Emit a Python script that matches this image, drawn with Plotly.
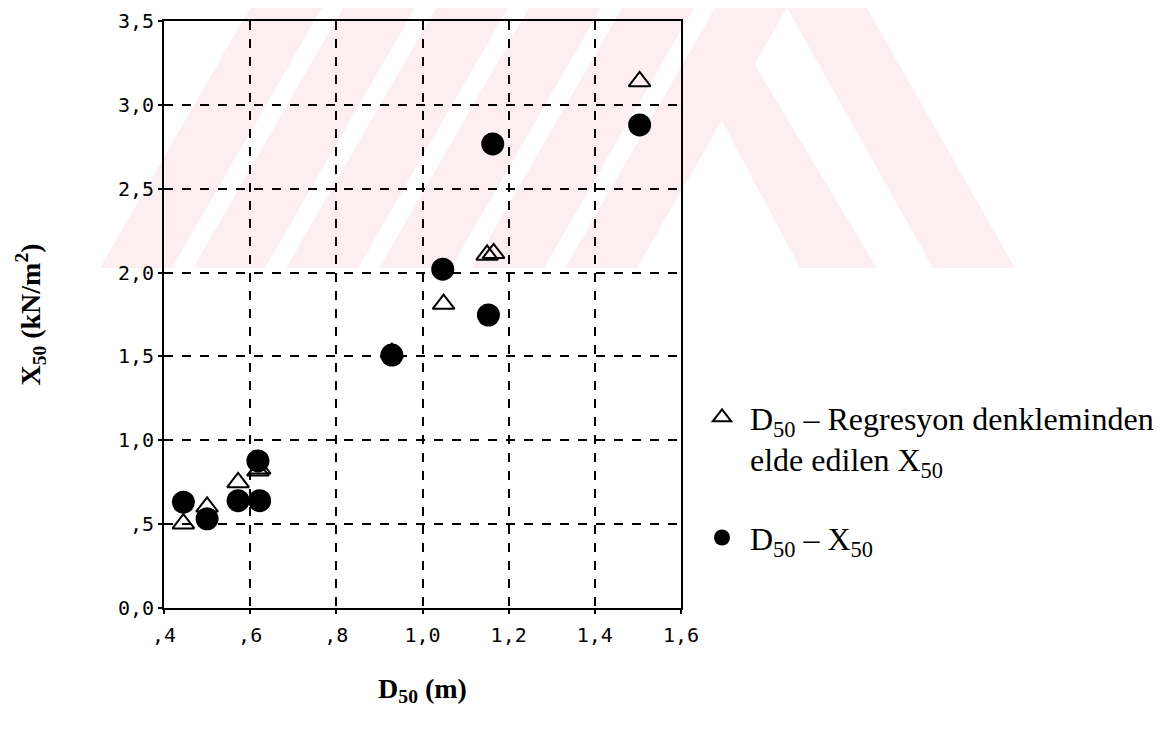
import plotly.graph_objects as go

# ---- data ----
d50_measured = [0.445, 0.500, 0.572, 0.622, 0.618, 0.929, 1.047, 1.153, 1.163, 1.504]
x50_measured = [0.631, 0.532, 0.640, 0.640, 0.877, 1.508, 2.020, 1.747, 2.767, 2.880]

d50_regr = [0.445, 0.500, 0.572, 0.618, 0.622, 0.929, 1.049, 1.150, 1.165, 1.504]
x50_regr = [0.503, 0.603, 0.749, 0.818, 0.830, 1.520, 1.812, 2.105, 2.115, 3.140]

x_tickvals = [0.4, 0.6, 0.8, 1.0, 1.2, 1.4, 1.6]
x_ticktext = [",4", ",6", ",8", "1,0", "1,2", "1,4", "1,6"]
y_tickvals = [0.0, 0.5, 1.0, 1.5, 2.0, 2.5, 3.0, 3.5]
y_ticktext = ["0,0", ",5", "1,0", "1,5", "2,0", "2,5", "3,0", "3,5"]

legend_regr = "D<sub>50</sub> \u2013 Regresyon denkleminden<br>elde edilen X<sub>50</sub>"
legend_meas = "D<sub>50</sub> \u2013 X<sub>50</sub>"

W, H = 1169, 730
OFF = 8  # page body margin
# plot area in page pixels
L, R, T, B = 164, 681, 21, 608

fig = go.Figure()
fig.add_trace(go.Scatter(
    x=d50_regr, y=x50_regr, mode="markers", name=legend_regr, legendgroup="a",
    marker=dict(symbol="triangle-up-open", size=19, color="black", line=dict(width=2, color="black")),
))
fig.add_trace(go.Scatter(
    x=d50_measured, y=x50_measured, mode="markers", name=legend_meas, legendgroup="b",
    marker=dict(symbol="circle", size=23, color="black", line=dict(width=0)),
))

# faint watermark (decoration), defined in page pixel space
def px2paper(px, py):
    return (px - L) / (R - L), (B - py) / (B - T)

def poly(points):
    pts = [px2paper(*p) for p in points]
    return "M " + " L ".join(f"{a:.4f},{b:.4f}" for a, b in pts) + " Z"

pink = "#fdeff1"
shapes = []
for k in range(6):
    b0 = 100 + 93 * k
    shapes.append(poly([(b0, 268), (b0 + 72, 268), (b0 + 72 + 150, 8), (b0 + 150, 8)]))
shapes.append(poly([(787, 8), (867, 8), (1015, 268), (933, 268)]))
shapes.append(poly([(700, 80), (740, 40), (877, 268), (800, 268)]))
for s in shapes:
    fig.add_shape(type="path", path=s, xref="paper", yref="paper",
                  fillcolor=pink, line=dict(width=0), layer="below")

tickfont = dict(family="DejaVu Sans Mono", size=20, color="black")
axis_common = dict(
    showline=True, linecolor="black", linewidth=2, mirror=True,
    showgrid=True, gridcolor="black", gridwidth=1.5, griddash="dash",
    ticks="outside", ticklen=4, tickcolor="black", tickwidth=2,
    zeroline=False, tickfont=tickfont, automargin=False, ticklabeloverflow="allow",
)

fig.update_xaxes(range=[0.4, 1.6], tickvals=x_tickvals, ticktext=x_ticktext,
                 ticklabelstandoff=4,
                 title=dict(text="<b>D<sub>50</sub> (m)</b>",
                            font=dict(family="Liberation Serif", size=28, color="black"),
                            standoff=32),
                 **axis_common)
fig.update_yaxes(range=[0, 3.5], tickvals=y_tickvals, ticktext=y_ticktext,
                 title=dict(text="<b>X<sub>50</sub> (kN/m<sup>2</sup>)</b>",
                            font=dict(family="Liberation Serif", size=28, color="black"),
                            standoff=69),
                 **axis_common)

fig.update_layout(
    width=W, height=H,
    margin=dict(l=L - OFF, r=W - (R - OFF), t=T - OFF, b=H - (B - OFF), autoexpand=False),
    paper_bgcolor="white", plot_bgcolor="rgba(0,0,0,0)",
    showlegend=True,
    legend=dict(x=(694 - L) / (R - L), y=(B - 390) / (B - T), xanchor="left", yanchor="top",
                valign="top", tracegroupgap=34, itemwidth=46, bgcolor="rgba(0,0,0,0)",
                font=dict(family="Liberation Serif", size=32, color="black")),
)

fig.write_html("out.html")
